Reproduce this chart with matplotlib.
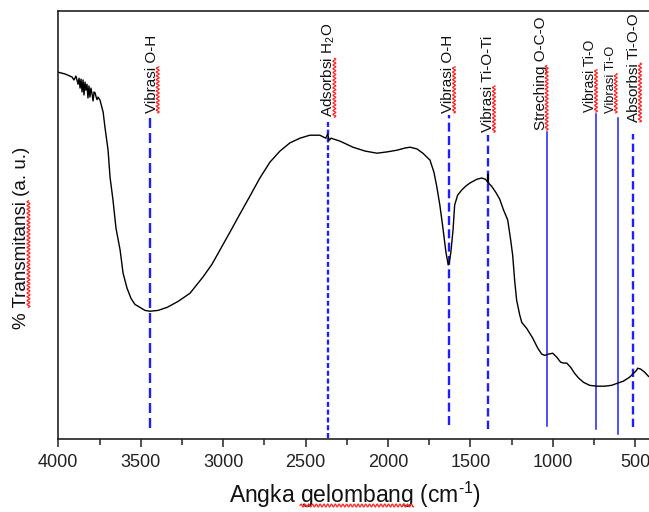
import numpy as np
import matplotlib
matplotlib.use('Agg')
import matplotlib.pyplot as plt
from matplotlib.lines import Line2D
from matplotlib.transforms import IdentityTransform
from matplotlib.ticker import MultipleLocator

plt.rcParams['font.family'] = ['Liberation Sans', 'DejaVu Sans']
plt.rcParams['mathtext.fontset'] = 'custom'
plt.rcParams['mathtext.rm'] = 'Liberation Sans'
plt.rcParams['mathtext.it'] = 'Liberation Sans:italic'
plt.rcParams['lines.scale_dashes'] = False

# ---------------- data ----------------
wavenumber = [4000, 3959, 3917, 3905, 3893, 3880, 3874, 3868, 3862, 3856, 3850, 3844,
              3838, 3832, 3826, 3820, 3814, 3808, 3802, 3795, 3789, 3783, 3777, 3771,
              3765, 3759, 3747,
              3728, 3717, 3698, 3686, 3668, 3650, 3625, 3607, 3583, 3559, 3535, 3504,
              3474, 3444, 3394, 3340, 3273, 3201, 3122, 3067, 3019, 2958, 2898, 2837,
              2777, 2716, 2655, 2595, 2534, 2474, 2413, 2377, 2365, 2357, 2345,
              2290, 2212, 2139, 2066, 2006, 1945, 1897, 1866, 1824, 1788, 1745, 1721,
              1703, 1685, 1666, 1648, 1634, 1627, 1618, 1605, 1595, 1577, 1552, 1528,
              1504, 1480, 1461, 1431, 1407, 1395, 1392, 1389, 1371, 1346, 1322, 1298,
              1273, 1255, 1243, 1231, 1219, 1200, 1188, 1158, 1121, 1091, 1067, 1049,
              1024, 1000, 976, 952, 934, 915, 891, 867, 843, 813, 776, 734, 685, 643,
              606, 570, 534, 510, 491, 485, 467, 443, 419, 400]
transmittance = [85.7, 85.3, 84.6, 83.9, 84.8, 82.9, 84.3, 82.0, 84.1, 81.1, 83.9, 80.4,
                 83.4, 81.5, 82.9, 79.7, 82.5, 79.9, 82.0, 80.6, 79.0, 81.1, 80.9, 80.0,
                 79.3, 79.9, 79.2,
                 76.4, 72.9, 67.5, 61.2, 55.8, 49.3, 44.2, 38.8, 35.3, 32.9, 31.5, 30.8,
                 30.1, 29.9, 30.1, 30.8, 32.2, 34.1, 37.9, 40.9, 44.2, 48.4, 52.6, 56.8,
                 61.0, 64.7, 67.3, 69.2, 70.3, 71.0, 71.0, 70.3, 71.3, 69.8, 70.3,
                 69.6, 68.2, 67.3, 66.8, 67.1, 67.5, 68.0, 68.2, 67.8, 66.8, 65.2, 62.4,
                 58.9, 54.7, 49.3, 43.7, 40.7, 41.4, 43.7, 48.8, 54.7, 57.0, 58.2, 59.1,
                 59.8, 60.3, 60.7, 61.0, 60.7, 60.0, 61.9, 59.8, 59.1, 57.7, 56.1, 53.5,
                 51.2, 46.5, 43.0, 37.1, 32.5, 29.0, 27.3, 25.9, 23.6, 21.3, 19.9, 19.6,
                 19.9, 20.1, 19.2, 18.0, 17.8, 17.8, 16.8, 15.4, 14.3, 13.3, 12.6, 12.4,
                 12.4, 12.6, 13.1, 13.6, 14.5, 15.4, 16.1, 16.6, 16.4, 15.7, 14.7, 14.3]

band_positions = [3444, 2365, 1629, 1391, 1036, 737, 606, 515]
band_labels = ['Vibrasi O-H', r'Adsorbsi H$_2$O', 'Vibrasi O-H', 'Vibrasi Ti-O-Ti',
               'Streching O-C-O', 'Vibrasi Ti-O', 'Vibrasi Ti-O', 'Absorbsi Ti-O-O']
underlined_words = ['Vibrasi', 'Adsorbsi', 'Vibrasi', 'Vibrasi',
                    'Streching', 'Vibrasi', 'Vibrasi', 'Absorbsi']
x_ticks = [4000, 3500, 3000, 2500, 2000, 1500, 1000, 500]

# ---------------- layout / style ----------------
line_top = [75.0, 74.1, 75.7, 71.0, 71.7, 75.9, 75.0, 71.3]
line_bottom = [2.6, 0.35, 3.3, 2.5, 3.0, 2.3, 1.2, 2.8]
line_dash = [(7.2, 3.6), (3.6, 2.0), (6.5, 3.1), (6.0, 3.0), None, None, None, (6.0, 3.0)]
label_x = [3433, 2363, 1635, 1393, 1073, 774, 648, 507]
label_y = [76.2, 75.2, 76.2, 71.7, 72.2, 76.4, 76.2, 74.1]
label_size = [11, 11, 11, 11, 11, 10, 9.3, 11]
BLUE = '#1e1eff'
RED = '#ff2a2a'

fig = plt.figure(figsize=(6.49, 5.12), dpi=100)
ax = fig.add_axes([58.3 / 649, 72.7 / 512, 593.3 / 649, 428.3 / 512])

ax.plot(wavenumber, transmittance, color='black', lw=1.0, zorder=3)

for pos, top, bot, dash in zip(band_positions, line_top, line_bottom, line_dash):
    if dash is None:
        ax.plot([pos, pos], [bot, top], color=BLUE, lw=1.1, zorder=2)
    else:
        ax.plot([pos, pos], [bot, top], color=BLUE, lw=1.7,
                linestyle=(0, dash), zorder=2)

texts = []
for lx, ly, lab, fs in zip(label_x, label_y, band_labels, label_size):
    t = ax.text(lx, ly, lab, rotation=90, ha='center', va='bottom',
                fontsize=fs, color='#111111')
    texts.append(t)

ax.set_xlim(4000, 400)
ax.set_ylim(0, 100)
ax.set_xticks(x_ticks)
ax.set_xticklabels([str(v) for v in x_ticks])
ax.xaxis.set_minor_locator(MultipleLocator(250))
ax.set_yticks([])
ax.tick_params(axis='x', which='major', direction='out', length=6, width=1.1,
               labelsize=13, pad=4.5, colors='#222222')
ax.tick_params(axis='x', which='minor', direction='out', length=4, width=1.1,
               colors='#222222')
for side in ['left', 'bottom', 'top', 'right']:
    ax.spines[side].set_linewidth(1.2)
    ax.spines[side].set_color('#222222')

xl = ax.set_xlabel(r'Angka gelombang (cm$^{\text{-1}}$)', fontsize=16.5,
                   labelpad=6.5, color='#111111')
yl = fig.text(22 / 649, 1 - 238 / 512, '% Transmitansi (a. u.)', rotation=90,
              ha='center', va='center', fontsize=13.5, color='#111111')

# ---------------- spell-check style wavy underlines ----------------
fig.canvas.draw()
renderer = fig.canvas.get_renderer()


def squiggle(start, end, base, vertical):
    n = int(abs(end - start) / 0.4) + 2
    s = np.linspace(start, end, n)
    w = base + 1.4 * np.sin(2 * np.pi * (s - start) / 3.8)
    xs, ys = (w, s) if vertical else (s, w)
    fig.add_artist(Line2D(xs, ys, transform=IdentityTransform(), color=RED,
                          lw=0.95, zorder=10))


def underline(t, word, vertical):
    s = t.get_text()
    prop = t.get_fontproperties()
    idx = s.index(word)
    prefix = s[:idx]
    wp = renderer.get_text_width_height_descent(prefix, prop, ismath=False)[0] if prefix else 0
    ww = renderer.get_text_width_height_descent(word, prop, ismath=False)[0]
    ismath = '$' in s
    d_full = renderer.get_text_width_height_descent(s, prop, ismath=ismath)[2]
    d_lp = renderer.get_text_width_height_descent('lp', prop, ismath=False)[2]
    d = max(d_full, d_lp)
    bb = t.get_window_extent(renderer)
    if vertical:
        base = bb.x1 - d + 2.0
        squiggle(bb.y0 + wp, bb.y0 + wp + ww, base, True)
    else:
        base = bb.y0 + d - 2.5
        squiggle(bb.x0 + wp, bb.x0 + wp + ww, base, False)


for t, w in zip(texts, underlined_words):
    underline(t, w, True)
underline(yl, 'Transmitansi', True)
underline(xl, 'gelombang', False)

fig.savefig('out.png', dpi=100)
